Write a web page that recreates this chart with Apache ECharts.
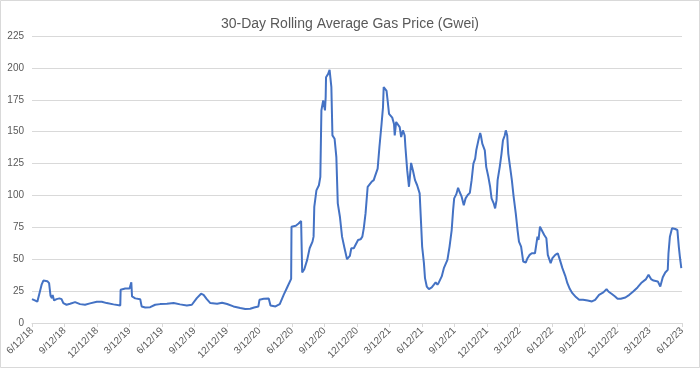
<!DOCTYPE html>
<html>
<head>
<meta charset="utf-8">
<script src="https://cdn.jsdelivr.net/npm/echarts@6/dist/echarts.min.js"></script>
<style>
html,body{margin:0;padding:0;background:#fff;}
#chart{width:700px;height:368px;}
</style>
</head>
<body>
<div id="chart"></div>
<script>
const chartTitle = '30-Day Rolling Average Gas Price (Gwei)';
const startDate = '2018-06-12';
const endDay = 1826;
const tickLabels = ['6/12/18','9/12/18','12/12/18','3/12/19','6/12/19','9/12/19','12/12/19','3/12/20','6/12/20','9/12/20','12/12/20','3/12/21','6/12/21','9/12/21','12/12/21','3/12/22','6/12/22','9/12/22','12/12/22','3/12/23','6/12/23'];
const yTicks = [0,25,50,75,100,125,150,175,200,225];

// days since startDate
const dayOffsets = [0,8,15,21,27,32,43,48,52,56,58,62,69,77,83,88,97,107,121,135,149,163,182,196,210,229,248,249,262,274,276,278,279,281,290,304,308,318,332,346,360,379,398,416,435,449,463,475,482,491,501,520,534,548,566,585,599,613,624,636,639,651,665,670,684,696,707,718,728,729,741,749,756,759,765,773,780,788,791,793,799,806,810,813,818,822,823,825,826,832,836,838,841,844,850,855,859,865,871,878,885,893,897,904,
  916,923,928,932,937,943,948,954,960,963,967,971,976,982,986,988,993,996,1000,1003,1007,1012,1017,1019,1023,1028,1033,1037,1042,1047,1049,1054,1059,1062,1065,1070,1076,1082,1089,1093,1096,1101,1104,1109,1115,1123,1129,1134,1139,1143,1151,1157,1167,1173,1179,1183,1186,1192,1197,1201,1207,1213,1218,1224,1230,1235,1240,1245,1248,1254,1259,1261,1265,1272,1276,1282,1287,1291,1297,1301,1305,1308,1314,1319,1323,1328,1331,1335,1338,1343,1348,1353,1359,1364,1368,1374,1380,1387,1392,1398,1404,1409,1413,1417,1420,1423,1427,1432,1439,1445,1449,1453,1457,1462,1470,1477,1483,1490,1498,1504,1511,1518,1528,1537,1548,1561,1573,1582,1593,1605,1614,1620,1629,1638,1645,1654,1667,1678,1689,1701,1713,1725,1732,1739,1746,1758,1765,1772,1779,1786,1788,1792,1798,1802,1807,1813,1817,1820,1824];
const gasPrice = [18.7,17.7,16.7,23.4,30,33.3,32.8,31.2,21.4,19.5,22,17.7,18.7,19.3,18.7,15.6,14.3,15.1,16.4,14.8,14.3,15.4,16.7,16.7,15.6,14.6,13.8,26,27,27,26,26,32,20.8,19.3,18.7,13,12.2,12.4,14.3,14.8,15.1,15.6,14.6,13.8,14.3,19.5,22.9,22.1,18.7,15.6,15.1,15.9,14.9,13,11.7,10.9,11.2,12.2,13,18.2,19,19.3,13.8,13,14.8,22,28.6,34.6,75.5,76.3,78,80,39.6,42.2,49.5,58.6,63.8,67.7,91,104,108,114.6,166.7,174.5,175.8,166.7,177,192.7,195.3,198.4,197.8,184.9,147.1,144.5,130,93.8,83.3,67.7,58.6,50,52.6,58.6,58.6,
  65.1,65.6,67.7,74.2,85.9,106.8,108,110.7,112,114.6,114,121,138,156,169,184.9,186,182,171.9,164,162.5,161,156,147,157.6,158.8,153.6,145.8,151,147,138,119.8,106.8,115.9,125.5,119.8,112,108,101.6,78.1,59.9,46.9,35.2,28.6,26.6,27.9,30,31.8,30,31.8,36.5,43,49.5,59.9,72.9,88.5,97.7,101,106,102.9,99,92.4,97.7,100.3,102,112,125,128.9,135.4,143.2,149,147,140.6,135.4,122.4,114.6,106.8,97.7,93.8,89.8,96.3,112,122.4,132.8,143.2,147,151,147,132.8,122.4,112,99,85.9,72.9,63.8,59.9,48.2,47.4,50.8,53.4,54.7,56,54.7,56,67.7,65.1,75.5,74.2,69,66.4,53.4,54.7,46.9,50.8,53.4,54.7,49.5,43,37,31.2,26.6,23.4,20.3,18.2,18.2,17.7,16.9,18.2,22.1,24,26.6,24.5,22.7,20.8,19,19,20,22.1,24.7,27.9,31.8,34.4,37.8,34.4,33.3,32.6,28.6,35.9,39.6,41.7,54.7,67.7,74.2,74.7,73.7,72.9,59.9,52,43];

const seriesData = dayOffsets.map((d, i) => [d, gasPrice[i]]);
const tickStep = endDay / (tickLabels.length - 1);
const FONT = '"Liberation Sans", Arial, sans-serif';

const chart = echarts.init(document.getElementById('chart'), null, {renderer: 'canvas'});
chart.setOption({
  backgroundColor: '#ffffff',
  animation: false,
  title: {
    text: chartTitle,
    left: 'center',
    top: 12,
    textStyle: {fontFamily: FONT, fontSize: 14, fontWeight: 'normal', color: '#595959'}
  },
  graphic: [{
    type: 'rect', silent: true,
    shape: {x: 0.5, y: 0.5, width: 699, height: 367},
    style: {fill: 'none', stroke: '#d9d9d9', lineWidth: 1}
  }],
  grid: {left: 32, right: 18, top: 36, bottom: 45, containLabel: false},
  xAxis: {
    type: 'value',
    min: 0,
    max: endDay,
    interval: tickStep,
    splitLine: {show: false},
    axisLine: {show: true, lineStyle: {color: '#d9d9d9', width: 1}},
    axisTick: {show: true, length: 4, lineStyle: {color: '#d9d9d9'}},
    axisLabel: {
      rotate: 45,
      fontFamily: FONT, fontSize: 10, color: '#595959', margin: 6,
      showMinLabel: true, showMaxLabel: true,
      formatter: function (v) {
        const idx = Math.round(v / tickStep);
        return tickLabels[idx] !== undefined ? tickLabels[idx] : '';
      }
    }
  },
  yAxis: {
    type: 'value',
    min: yTicks[0],
    max: yTicks[yTicks.length - 1],
    interval: yTicks[1] - yTicks[0],
    axisLine: {show: false},
    axisTick: {show: false},
    splitLine: {show: true, lineStyle: {color: '#d9d9d9', width: 1}},
    axisLabel: {fontFamily: FONT, fontSize: 10, color: '#595959', margin: 8}
  },
  series: [{
    type: 'line',
    data: seriesData,
    showSymbol: false,
    symbol: 'none',
    smooth: false,
    lineStyle: {color: '#4472c4', width: 2},
    itemStyle: {color: '#4472c4'}
  }]
});
</script>
</body>
</html>
